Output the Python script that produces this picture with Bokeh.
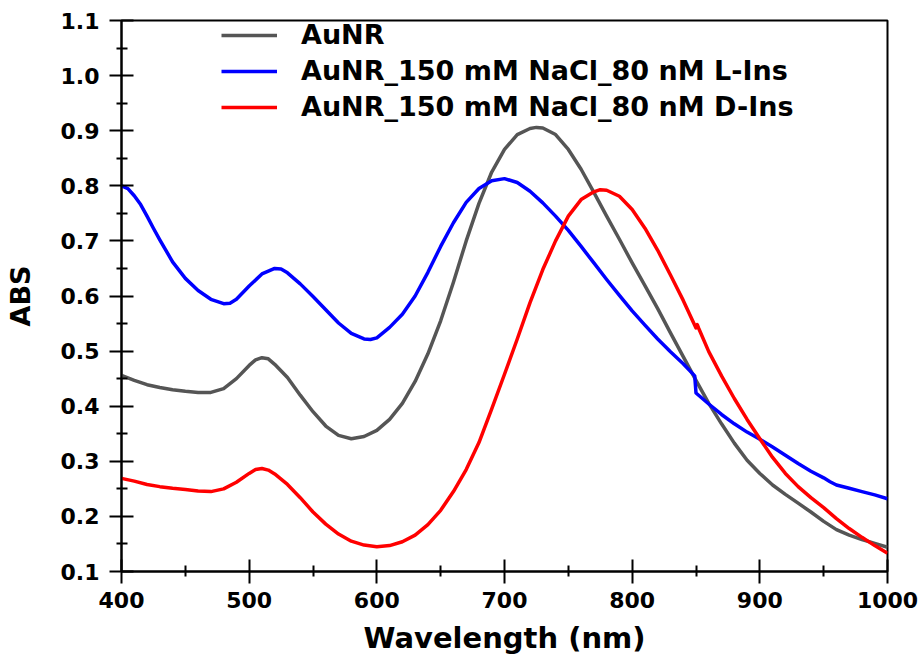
from bokeh.plotting import figure
from bokeh.models import FixedTicker, PrintfTickFormatter, Legend, LegendItem, Range1d
from bokeh.embed import file_html
from bokeh.resources import INLINE

# ---- data ----
wl_aunr = [400, 410, 420, 430, 440, 450, 460, 470, 480, 490, 500, 505, 510, 515, 520, 530, 540, 550,
           560, 570, 580, 590, 600, 610, 620, 630, 640, 650, 660, 670, 680, 690, 700, 710, 720, 725,
           730, 740, 750, 760, 770, 780, 790, 800, 810, 820, 830, 840, 850, 860, 870, 880, 890, 900,
           910, 920, 930, 940, 950, 960, 970, 980, 990, 1000]
abs_aunr = [0.456, 0.447, 0.439, 0.434, 0.430, 0.427, 0.425, 0.425, 0.432, 0.450, 0.474, 0.484, 0.488,
            0.486, 0.476, 0.452, 0.420, 0.390, 0.364, 0.347, 0.341, 0.345, 0.356, 0.376, 0.405, 0.445,
            0.495, 0.555, 0.625, 0.700, 0.768, 0.825, 0.866, 0.893, 0.904, 0.906, 0.905, 0.893, 0.866,
            0.830, 0.788, 0.745, 0.703, 0.660, 0.619, 0.577, 0.533, 0.490, 0.447, 0.405, 0.368, 0.333,
            0.302, 0.278, 0.257, 0.240, 0.224, 0.208, 0.191, 0.176, 0.166, 0.158, 0.151, 0.144]

wl_lins = [400, 405, 410, 415, 420, 425, 430, 440, 450, 460, 470, 480, 485, 490, 500, 510, 520, 525,
           530, 540, 550, 560, 570, 580, 590, 595, 600, 610, 620, 630, 640, 650, 660, 670, 680, 690,
           700, 710, 720, 730, 740, 750, 760, 770, 780, 790, 800, 810, 820, 830, 840, 849, 850, 860,
           870, 880, 890, 900, 910, 920, 930, 940, 950, 955, 960, 970, 980, 990, 1000]
abs_lins = [0.800, 0.795, 0.782, 0.766, 0.745, 0.723, 0.702, 0.662, 0.632, 0.610, 0.594, 0.586, 0.587,
            0.594, 0.618, 0.640, 0.650, 0.649, 0.642, 0.622, 0.599, 0.575, 0.551, 0.532, 0.522, 0.521,
            0.524, 0.543, 0.567, 0.600, 0.643, 0.690, 0.733, 0.770, 0.795, 0.809, 0.813, 0.806, 0.790,
            0.769, 0.745, 0.719, 0.690, 0.660, 0.630, 0.601, 0.573, 0.547, 0.522, 0.499, 0.477, 0.455,
            0.424, 0.404, 0.385, 0.368, 0.353, 0.340, 0.326, 0.311, 0.296, 0.282, 0.270, 0.263, 0.257,
            0.251, 0.245, 0.239, 0.232]

wl_dins = [400, 410, 420, 430, 440, 450, 460, 470, 480, 490, 500, 505, 510, 515, 520, 530, 540, 550,
           560, 570, 580, 590, 600, 610, 620, 630, 640, 650, 660, 670, 680, 690, 700, 710, 720, 730,
           740, 750, 760, 770, 775, 780, 790, 800, 810, 820, 830, 840, 848, 850, 851, 852, 860, 870,
           880, 890, 900, 910, 920, 930, 940, 950, 960, 970, 980, 990, 1000]
abs_dins = [0.269, 0.264, 0.258, 0.254, 0.251, 0.249, 0.246, 0.245, 0.250, 0.262, 0.278, 0.285, 0.287,
            0.284, 0.277, 0.258, 0.234, 0.208, 0.186, 0.168, 0.155, 0.148, 0.145, 0.147, 0.154, 0.166,
            0.185, 0.211, 0.245, 0.285, 0.334, 0.395, 0.458, 0.522, 0.588, 0.648, 0.700, 0.745, 0.775,
            0.789, 0.793, 0.792, 0.781, 0.757, 0.723, 0.683, 0.638, 0.592, 0.552, 0.542, 0.548, 0.542,
            0.499, 0.455, 0.414, 0.376, 0.341, 0.307, 0.278, 0.254, 0.234, 0.216, 0.196, 0.178, 0.162,
            0.147, 0.133]

series_names = ["AuNR", "AuNR_150 mM NaCl_80 nM L-Ins", "AuNR_150 mM NaCl_80 nM D-Ins"]
series_colors = ["#555555", "#0000ff", "#ff0000"]
x_ticks = [400, 500, 600, 700, 800, 900, 1000]
x_minor = [450, 550, 650, 750, 850, 950]
y_ticks = [0.1, 0.2, 0.3, 0.4, 0.5, 0.6, 0.7, 0.8, 0.9, 1.0, 1.1]
y_minor = [0.15, 0.25, 0.35, 0.45, 0.55, 0.65, 0.75, 0.85, 0.95, 1.05]

FONT = "DejaVu Sans"

p = figure(width=922, height=663, output_backend="svg", toolbar_location=None,
           x_range=Range1d(400, 1000), y_range=Range1d(0.1, 1.1),
           min_border_left=121, min_border_top=20, min_border_right=35, min_border_bottom=92)
p.grid.visible = False
p.outline_line_color = "black"
p.outline_line_width = 2
p.background_fill_color = "white"
p.border_fill_color = "white"

rs = []
for xs, ys, c in [(wl_aunr, abs_aunr, series_colors[0]),
                  (wl_lins, abs_lins, series_colors[1]),
                  (wl_dins, abs_dins, series_colors[2])]:
    rs.append(p.line(xs, ys, line_color=c, line_width=3.5, line_join="round"))

p.xaxis.ticker = FixedTicker(ticks=x_ticks, minor_ticks=x_minor)
p.yaxis.ticker = FixedTicker(ticks=y_ticks, minor_ticks=y_minor)
p.yaxis.formatter = PrintfTickFormatter(format="%.1f")

for ax in (p.xaxis, p.yaxis):
    ax.axis_line_color = "black"
    ax.axis_line_width = 2
    ax.major_tick_line_color = "black"
    ax.major_tick_line_width = 2
    ax.minor_tick_line_color = "black"
    ax.minor_tick_line_width = 2
    ax.major_tick_in = 12
    ax.major_tick_out = 12
    ax.minor_tick_in = 6
    ax.minor_tick_out = 5
    ax.major_label_text_font = FONT
    ax.major_label_text_font_style = "bold"
    ax.major_label_text_font_size = "22px"
    ax.major_label_text_color = "black"
    ax.axis_label_text_font = FONT
    ax.axis_label_text_font_style = "bold"
    ax.axis_label_text_color = "black"

p.xaxis.major_label_standoff = 8
p.yaxis.major_label_standoff = 10
p.xaxis.axis_label = "Wavelength (nm)"
p.xaxis.axis_label_text_font_size = "29px"
p.xaxis.axis_label_standoff = 10
p.yaxis.axis_label = "ABS"
p.yaxis.axis_label_text_font_size = "27px"
p.yaxis.axis_label_standoff = 22

legend = Legend(items=[LegendItem(label=n, renderers=[r]) for n, r in zip(series_names, rs)],
                location=(100, 449), padding=0, margin=0, spacing=5,
                glyph_width=56, glyph_height=30, label_height=30, label_standoff=24,
                border_line_alpha=0, background_fill_alpha=0,
                label_text_font=FONT, label_text_font_style="bold",
                label_text_font_size="27px", label_text_color="black")
p.add_layout(legend)

open("out.html", "w").write(file_html(p, INLINE))
